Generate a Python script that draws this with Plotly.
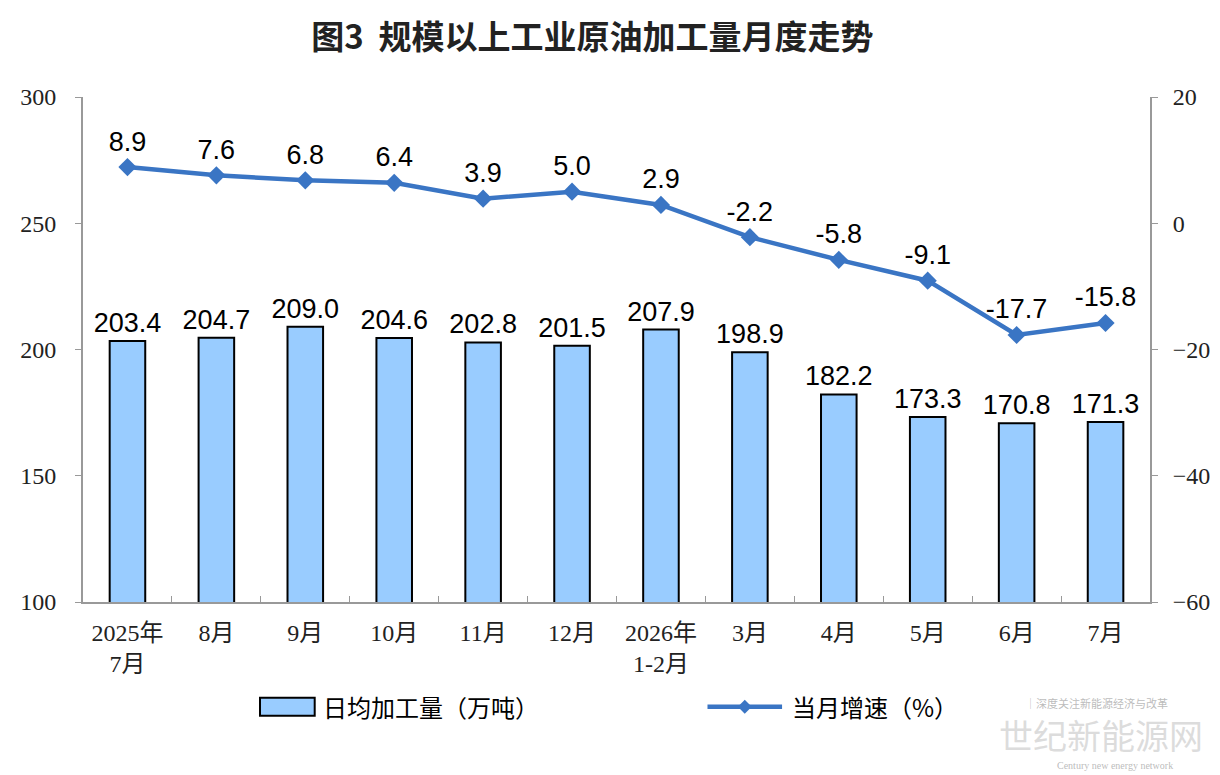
import plotly.graph_objects as go

months = ["2025年<br>7月", "8月", "9月", "10月", "11月", "12月", "2026年<br>1-2月",
          "3月", "4月", "5月", "6月", "7月"]
daily_output = [203.4, 204.7, 209.0, 204.6, 202.8, 201.5, 207.9, 198.9, 182.2, 173.3, 170.8, 171.3]
growth = [8.9, 7.6, 6.8, 6.4, 3.9, 5.0, 2.9, -2.2, -5.8, -9.1, -17.7, -15.8]

bar_fill = "rgb(153,204,255)"
line_col = "rgb(58,117,196)"
sans = "Liberation Sans, Noto Sans CJK SC, sans-serif"
serif = "Liberation Serif, Noto Sans CJK SC, serif"
cjk = "Noto Sans CJK SC, sans-serif"

fig = go.Figure()
fig.add_trace(go.Bar(
    x=months, y=daily_output, name="日均加工量（万吨）",
    marker=dict(color=bar_fill, line=dict(color="black", width=2)),
    width=0.4,
    text=[f"{v:.1f}" for v in daily_output], textposition="outside",
    constraintext="none",
    textfont=dict(family=sans, size=27, color="black"),
    cliponaxis=False,
))
fig.add_trace(go.Scatter(
    x=months, y=growth, name="当月增速（%）", yaxis="y2",
    mode="lines+markers+text",
    line=dict(color=line_col, width=4.5),
    marker=dict(symbol="diamond", size=14, color=line_col),
    text=[f"{v:.1f}" for v in growth], textposition="top center",
    textfont=dict(family=sans, size=27, color="black"),
    cliponaxis=False,
))

tick_font = dict(family=serif, size=24, color="#222")
fig.update_layout(
    width=1220, height=775,
    margin=dict(l=69, r=78, t=89, b=181),
    plot_bgcolor="white", paper_bgcolor="white",
    title=dict(text="<b>图3  规模以上工业原油加工量月度走势</b>", x=0.479, y=0.962,
               xanchor="center", yanchor="middle", font=dict(family=cjk, size=33, color="#222")),
    bargap=0.6,
    showlegend=False,
    xaxis=dict(type="category", range=[-0.5, 11.5], showline=True, linecolor="#999", linewidth=2,
               ticks="inside", tickson="boundaries", ticklen=6, tickcolor="#999",
               ticklabelstandoff=8,
               tickfont=dict(family=serif, size=24, color="#222"), showgrid=False),
    yaxis=dict(range=[100, 300], dtick=50, showline=True, linecolor="#999", linewidth=2,
               ticks="outside", ticklen=6, tickcolor="#999", showgrid=False, zeroline=False,
               ticklabelstandoff=14, tickfont=tick_font),
    yaxis2=dict(range=[-60, 20], dtick=20, overlaying="y", side="right", showline=True,
                linecolor="#999", linewidth=2, ticks="outside", ticklen=6, tickcolor="#999",
                showgrid=False, zeroline=False, ticklabelstandoff=10, tickfont=tick_font),
)

# legend drawn by hand (wide bar swatch like the original)
def px(x):  # screen x -> paper x
    return (x - 77) / 1073

def py(y):  # screen y -> paper y
    return (603 - y) / 506

ly = 708
fig.add_shape(type="rect", xref="paper", yref="paper",
              x0=px(255), x1=px(310), y0=py(ly + 9), y1=py(ly - 9),
              fillcolor=bar_fill, line=dict(color="black", width=2))
fig.add_annotation(text="日均加工量（万吨）", xref="paper", yref="paper", x=px(316), y=py(ly),
                   xanchor="left", yanchor="middle", showarrow=False,
                   font=dict(family=cjk, size=24, color="black"))
fig.add_shape(type="line", xref="paper", yref="paper",
              x0=px(705), x1=px(780), y0=py(ly), y1=py(ly),
              line=dict(color=line_col, width=4.5))
fig.add_shape(type="path", xref="paper", yref="paper",
              path=f"M {px(742.5)},{py(ly - 7)} L {px(749.5)},{py(ly)} L {px(742.5)},{py(ly + 7)} L {px(735.5)},{py(ly)} Z",
              fillcolor=line_col, line=dict(width=0))
fig.add_annotation(text="当月增速（%）", xref="paper", yref="paper", x=px(788), y=py(ly),
                   xanchor="left", yanchor="middle", showarrow=False,
                   font=dict(family=cjk, size=24, color="black"))

# watermark
fig.add_annotation(text="│深度关注新能源经济与改革", xref="paper", yref="paper", x=px(1170), y=py(704),
                   xanchor="right", yanchor="middle", showarrow=False,
                   font=dict(family=cjk, size=11, color="rgba(170,170,170,0.8)"))
fig.add_annotation(text="世纪新能源网", xref="paper", yref="paper", x=px(1205), y=py(736),
                   xanchor="right", yanchor="middle", showarrow=False,
                   font=dict(family=cjk, size=34, color="rgba(205,205,205,0.7)"))
fig.add_annotation(text="Century new energy network", xref="paper", yref="paper", x=px(1175), y=py(767),
                   xanchor="right", yanchor="middle", showarrow=False,
                   font=dict(family=serif, size=10, color="rgba(170,170,170,0.8)"))

fig.write_html("out.html")
